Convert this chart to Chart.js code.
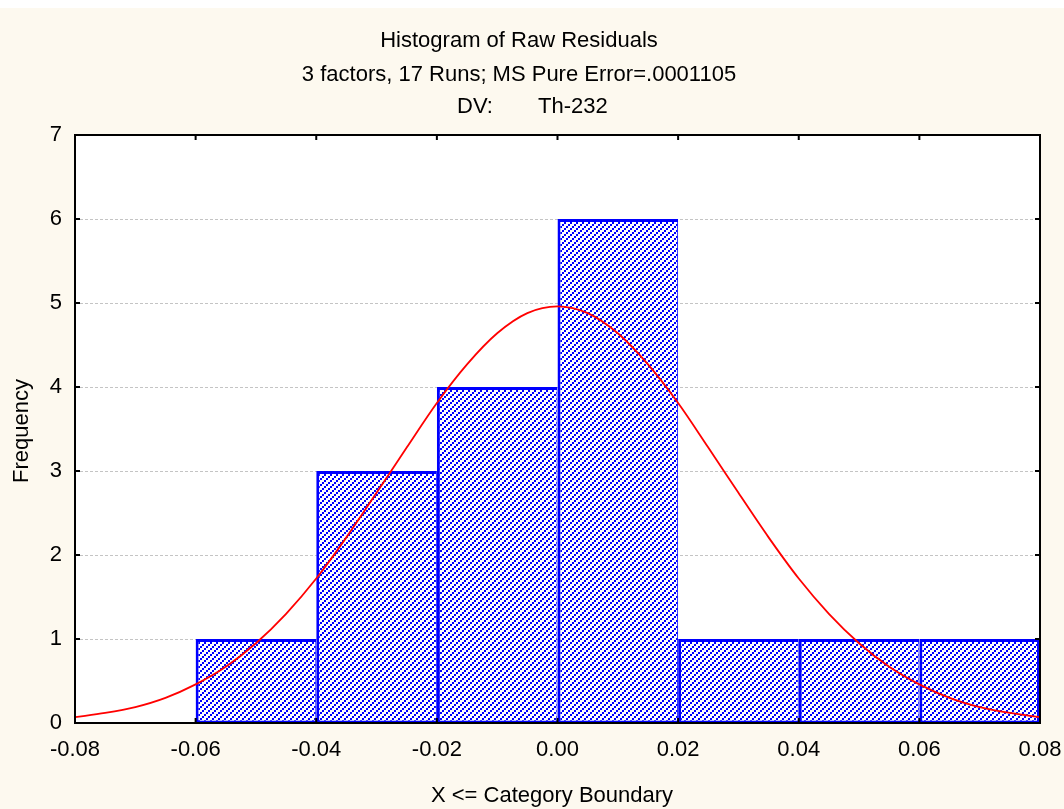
<!DOCTYPE html>
<html><head><meta charset="utf-8">
<script src="https://cdn.jsdelivr.net/npm/chart.js@4.4.1/dist/chart.umd.min.js"></script>
<style>
html,body{margin:0;padding:0;background:#ffffff;}
#wrap{position:absolute;left:0;top:8px;width:1064px;height:801px;background:#FDF9EF;}
canvas{display:block;}
</style></head><body>
<div id="wrap"><canvas id="c" width="1064" height="801"></canvas></div>
<script>
const titleLine1 = 'Histogram of Raw Residuals';
const titleLine2 = '3 factors, 17 Runs; MS Pure Error=.0001105';
const dvLabel = 'DV:';
const dvName = 'Th-232';
const xAxisTitle = 'X <= Category Boundary';
const yAxisTitle = 'Frequency';

const binCenters = [-0.05, -0.03, -0.01, 0.01, 0.03, 0.05, 0.07];
const binCounts  = [1, 3, 4, 6, 1, 1, 1];

const curveX = [-0.08,-0.075,-0.07,-0.065,-0.06,-0.055,-0.05,-0.045,-0.04,-0.035,-0.03,-0.025,-0.02,-0.015,-0.01,-0.005,
                0,0.005,0.01,0.015,0.02,0.025,0.03,0.035,0.04,0.045,0.05,0.055,0.06,0.065,0.07,0.075,0.08];
const curveY = [0.07,0.12,0.19,0.30,0.46,0.67,0.95,1.30,1.72,2.21,2.74,3.28,3.81,4.27,4.64,4.88,
                4.96,4.88,4.64,4.27,3.81,3.28,2.74,2.21,1.72,1.30,0.95,0.67,0.46,0.30,0.19,0.12,0.07];

const xTickValues = [-0.08,-0.06,-0.04,-0.02,0,0.02,0.04,0.06,0.08];
const xTickLabels = ['-0.08','-0.06','-0.04','-0.02','0.00','0.02','0.04','0.06','0.08'];
const yTickValues = [0,1,2,3,4,5,6,7];
const yTickLabels = ['0','1','2','3','4','5','6','7'];

const FONT = '"Liberation Sans", Arial, sans-serif';
const BLUE = '#0000FF';

function hatch() {
  const p = document.createElement('canvas');
  p.width = 6; p.height = 6;
  const g = p.getContext('2d');
  g.fillStyle = '#ffffff'; g.fillRect(0,0,6,6);
  g.fillStyle = BLUE;
  g.fillRect(0,4,2,2); g.fillRect(2,2,2,2); g.fillRect(4,0,2,2);
  return g.createPattern(p,'repeat');
}

const decor = {
  id: 'decor',
  beforeDraw(chart) {
    const {ctx, chartArea:a} = chart;
    ctx.save();
    ctx.fillStyle = '#ffffff';
    ctx.fillRect(a.left, a.top, a.right-a.left, a.bottom-a.top);
    ctx.restore();
  },
  afterDraw(chart) {
    const {ctx, chartArea:a, scales} = chart;
    ctx.save();
    ctx.strokeStyle = '#000000';
    ctx.lineWidth = 2;
    ctx.strokeRect(a.left, a.top, a.right-a.left, a.bottom-a.top);
    ctx.beginPath();
    yTickValues.forEach(v => {
      const y = scales.y.getPixelForValue(v);
      ctx.moveTo(a.left, y); ctx.lineTo(a.left+5, y);
      ctx.moveTo(a.right, y); ctx.lineTo(a.right-5, y);
    });
    xTickValues.forEach(v => {
      const x = scales.x.getPixelForValue(v);
      ctx.moveTo(x, a.top); ctx.lineTo(x, a.top+5);
      ctx.moveTo(x, a.bottom); ctx.lineTo(x, a.bottom-5);
    });
    ctx.stroke();

    ctx.fillStyle = '#000000';
    ctx.font = '22px ' + FONT;
    ctx.textBaseline = 'alphabetic';
    ctx.textAlign = 'center';
    ctx.fillText(titleLine1, 519, 39);
    ctx.fillText(titleLine2, 519, 73);
    ctx.textAlign = 'left';
    ctx.fillText(dvLabel, 457, 105);
    ctx.fillText(dvName, 538, 105);
    ctx.textAlign = 'center';
    ctx.fillText(xAxisTitle, 552, 794);
    ctx.save();
    ctx.translate(28, 423);
    ctx.rotate(-Math.PI/2);
    ctx.fillText(yAxisTitle, 0, 0);
    ctx.restore();
    ctx.restore();
  }
};

const lastBar = binCounts.length - 1;

new Chart(document.getElementById('c'), {
  type: 'bar',
  data: {
    datasets: [
      {
        type: 'line',
        order: 0,
        data: curveX.map((x,i) => ({x, y: curveY[i]})),
        borderColor: '#FF0000',
        borderWidth: 1.8,
        pointRadius: 0,
        fill: false,
        tension: 0.4,
        cubicInterpolationMode: 'monotone'
      },
      {
        type: 'bar',
        order: 1,
        data: binCenters.map((x,i) => ({x, y: binCounts[i]})),
        backgroundColor: hatch(),
        borderColor: BLUE,
        borderWidth: ctx => ({top:3, left:3, right: ctx.dataIndex === lastBar ? 3 : 1, bottom:2}),
        borderSkipped: false,
        barPercentage: 1.0,
        categoryPercentage: 1.0,
        inflateAmount: 0
      }
    ]
  },
  options: {
    responsive: false,
    devicePixelRatio: 1,
    animation: false,
    layout: { padding: { top: 127, right: 24, bottom: 0, left: 0 } },
    plugins: { legend: {display:false}, title:{display:false}, tooltip:{enabled:false} },
    scales: {
      x: {
        type: 'linear',
        min: -0.08, max: 0.08,
        offset: false,
        grid: { display: false, drawTicks: false },
        border: { display: false },
        afterBuildTicks: s => { s.ticks = xTickValues.map(v => ({value: v})); },
        afterFit: s => { s.height = 86; s.paddingLeft = 0; s.paddingRight = 0; },
        ticks: {
          autoSkip: false, maxRotation: 0,
          padding: 14,
          color: '#000000',
          font: { family: FONT, size: 22 },
          callback: (v, i) => xTickLabels[i]
        }
      },
      y: {
        min: 0, max: 7,
        grid: { color: '#c4c4c4', lineWidth: 1, drawTicks: false },
        border: { display: false, dash: [3, 2] },
        afterBuildTicks: s => { s.ticks = yTickValues.map(v => ({value: v})); },
        afterFit: s => { s.width = 75; s.paddingTop = 0; s.paddingBottom = 0; },
        ticks: {
          padding: 13,
          color: '#000000',
          font: { family: FONT, size: 22 },
          callback: (v, i) => yTickLabels[i]
        }
      }
    }
  },
  plugins: [decor]
});
</script>
</body></html>
